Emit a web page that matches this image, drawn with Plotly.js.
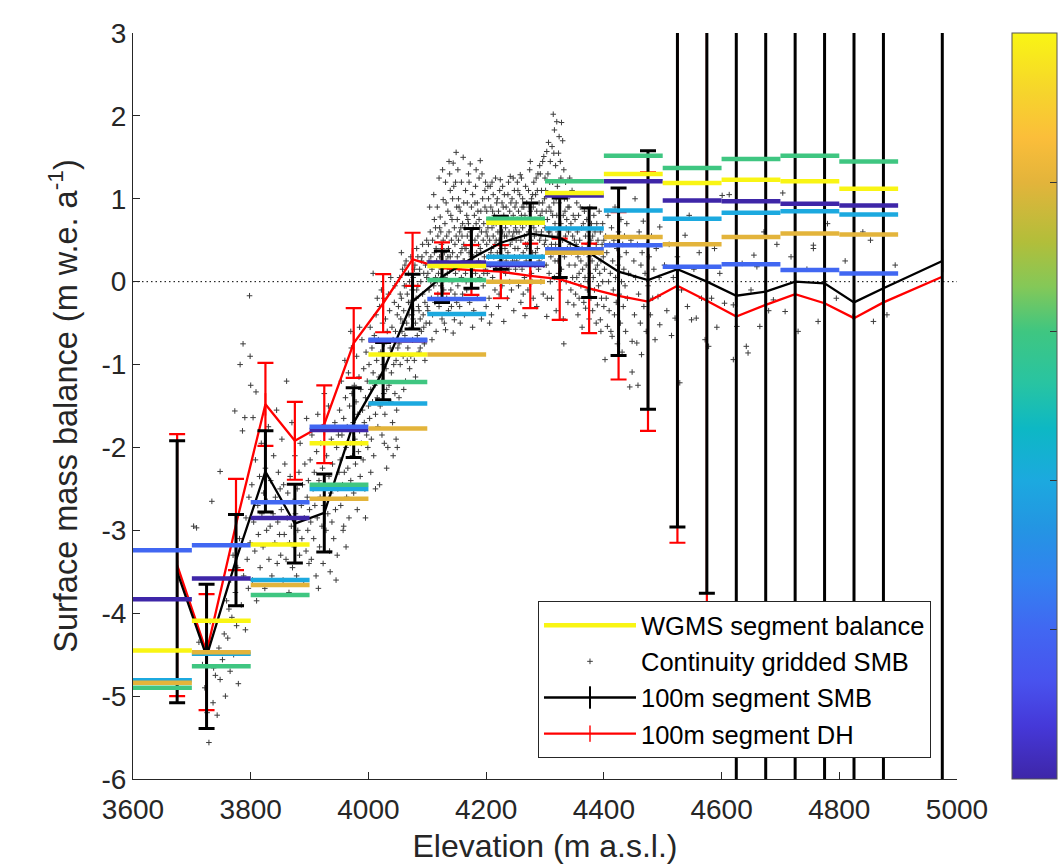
<!DOCTYPE html>
<html>
<head>
<meta charset="utf-8">
<script src="https://cdn.plot.ly/plotly-3.0.1.min.js"></script>
<style>html,body{margin:0;padding:0;background:#fff;}#chart{width:1058px;height:864px;}</style>
</head>
<body>
<div id="chart"></div>
<script>
// ---- 100 m segment centres (m a.s.l.) ----
const segElev = [3675,3725,3775,3825,3875,3925,3975,4025,4075,4125,4175,4225,4275,4325,4375,4425,4475,4525,4575,4625,4675,4725,4775,4825,4875,4975];
// 100m segment SMB (black) and its uncertainty
const smbSeg = [-3.50,-4.52,-3.36,-2.29,-2.92,-2.79,-1.70,-1.08,-0.24,0.06,0.28,0.47,0.58,0.53,0.35,0.12,0.02,0.15,0.00,-0.17,-0.12,0.00,-0.02,-0.25,-0.08,0.25];
const smbErr = [1.58,0.87,0.55,0.49,0.475,0.47,0.42,0.345,0.33,0.31,0.36,0.32,0.37,0.48,0.54,1.01,1.56,3.11,3.76,6.5,7.0,7.5,8.0,8.5,9.0,10.0];
// 100m segment DH (red) and its uncertainty (not shown above 4600 m)
const dhSeg = [-3.42,-4.47,-2.93,-1.48,-1.92,-1.72,-0.74,-0.26,0.27,0.165,0.14,0.12,0.07,0.03,-0.08,-0.17,-0.24,-0.05,-0.23,-0.42,-0.28,-0.15,-0.26,-0.44,-0.25,0.06];
const dhErr = [1.58,0.70,0.55,0.50,0.47,0.47,0.42,0.35,0.32,0.31,0.30,0.32,0.39,0.49,0.54,1.01,1.56,3.10,3.65,NaN,NaN,NaN,NaN,NaN,NaN,NaN];

// ---- WGMS segment balances: bin lower edges, one series per year (colour index 0..5) ----
const wgmsBinStart = [3600,3700,3800,3900,4000,4100,4200,4300,4400,4500,4600,4700,4800];
const wgmsBinWidth = 100;
const wgmsYear0 = [-3.83,-3.58,-2.85,-1.79,-0.71,0.23,0.20,1.04,1.21,0.98,0.97,0.94,0.92];
const wgmsYear1 = [-3.24,-3.18,-2.66,-1.75,-0.70,-0.21,0.22,0.39,0.44,0.18,0.21,0.14,0.10];
const wgmsYear2 = [-4.81,-4.49,-3.60,-2.50,-1.47,-0.39,0.30,0.64,0.86,0.76,0.83,0.85,0.81];
const wgmsYear3 = [-4.90,-4.64,-3.78,-2.45,-1.21,0.02,0.76,1.21,1.52,1.37,1.48,1.52,1.45];
const wgmsYear4 = [-4.84,-4.47,-3.66,-2.62,-1.77,-0.88,0.00,0.35,0.54,0.45,0.54,0.58,0.57];
const wgmsYear5 = [-4.45,-4.09,-3.17,-1.95,-0.88,0.19,0.71,1.07,1.30,1.19,1.23,1.21,1.12];
const wgmsYearIdx = [0,1,2,3,4,5];
const wgmsColors = ['#3E26A8','#4167F2','#1CA9DF','#3FC681','#E3B43B','#F9F514'];

// ---- tick labels ----
const xTickVals = [3600,3800,4000,4200,4400,4600,4800,5000];
const xTickText = ['3600','3800','4000','4200','4400','4600','4800','5000'];
const yTickVals = [-6,-5,-4,-3,-2,-1,0,1,2,3];
const yTickText = ['-6','-5','-4','-3','-2','-1','0','1','2','3'];

// ---- Continuity gridded SMB points [elevation, SMB] read from the cloud ----
const gridPts = [
[3703,-2.95],[3708,-2.97],[3712,-4.35],[3718,-4.62],[3722,-4.9],[3726,-5.2],[3729,-5.56],[3731,-4.1],[3734,-2.65],[3736,-5.08],[3737,-4.66],[3740,-4.75],[3743,-5.23],[3746,-4.42],[3748,-2.29],[3748,-4.8],[3752,-4.56],[3755,-4.25],[3757,-5.0],[3759,-3.85],
[3761,-4.3],[3763,-3.95],[3765,-4.7],[3766,-3.6],[3768,-4.05],[3770,-3.3],[3771,-4.5],[3773,-1.56],[3774,-3.75],[3776,-4.15],[3778,-3.45],[3779,-4.85],[3781,-3.1],[3782,-1.0],[3784,-3.9],[3786,-1.8],[3787,-0.75],[3788,-3.55],[3790,-1.64],[3791,-4.2],[3792,-2.85],[3794,-3.35],[3796,-3.7],[3797,-2.6],[3798,-0.17],[3799,-0.9],[3799,-3.15],[3800,-1.25],
[3802,-2.45],[3803,-3.6],[3804,-1.64],[3805,-2.9],[3807,-3.25],[3808,-2.15],[3809,-1.33],[3810,-3.85],[3812,-2.7],[3813,-3.05],[3815,-2.35],[3816,-3.45],[3818,-1.95],[3819,-2.8],[3821,-3.2],[3822,-2.55],[3824,-3.7],[3825,-2.25],[3827,-3.0],[3828,-2.65],[3830,-1.75],[3831,-3.35],[3833,-2.95],[3834,-2.4],[3836,-3.55],[3838,-2.8],[3839,-2.1],[3841,-3.15],[3842,-2.6],[3844,-1.55],[3845,-3.4],[3846,-2.9],[3847,-2.3],[3849,-3.05],[3850,-2.5],
[3851,-3.3],[3852,-2.75],[3853,-1.9],[3855,-3.6],[3856,-2.45],[3857,-3.05],[3858,-2.2],[3860,-3.35],[3861,-1.2],[3862,-2.85],[3863,-2.55],[3865,-3.75],[3866,-3.15],[3867,-2.35],[3869,-2.95],[3870,-1.7],[3871,-3.45],[3872,-2.65],[3874,-3.2],[3875,-2.1],[3876,-2.8],[3878,-3.55],[3879,-2.5],[3880,-3.0],[3882,-2.3],[3883,-3.3],[3884,-1.95],[3886,-2.7],[3887,-3.1],[3888,-2.45],[3890,-3.65],[3891,-2.85],[3892,-2.2],[3894,-3.25],[3895,-1.65],[3896,-2.6],[3897,-3.0],[3898,-2.4],[3899,-3.4],[3900,-2.75],
[3901,-2.15],[3902,-2.9],[3903,-3.35],[3904,-1.85],[3906,-2.5],[3907,-3.1],[3908,-2.3],[3909,-2.7],[3911,-3.55],[3912,-2.05],[3913,-2.85],[3914,-1.6],[3916,-2.4],[3917,-3.2],[3918,-2.6],[3919,-1.95],[3921,-2.95],[3922,-2.25],[3923,-3.4],[3924,-2.7],[3926,-1.75],[3927,-2.45],[3928,-3.0],[3929,-2.1],[3931,-2.8],[3932,-1.5],[3933,-2.35],[3934,-3.25],[3936,-2.55],[3937,-1.9],[3938,-2.9],[3939,-2.2],[3941,-3.1],[3942,-2.45],[3943,-1.7],[3944,-2.75],[3946,-2.0],[3947,-3.3],[3948,-2.5],[3949,-1.85],[3950,-2.3],[3945,-3.6],[3935,-3.5],[3915,-3.7],[3925,-1.35],
[3951,-1.55],[3952,-2.15],[3953,-2.7],[3954,-1.2],[3955,-1.85],[3956,-2.45],[3957,-3.0],[3958,-1.65],[3959,-2.3],[3960,-0.95],[3961,-1.4],[3962,-2.0],[3963,-2.6],[3964,-1.75],[3965,-2.25],[3966,-1.1],[3967,-2.85],[3968,-1.5],[3969,-1.95],[3970,-2.4],[3971,-0.8],[3972,-1.35],[3973,-2.1],[3974,-1.7],[3975,-2.55],[3976,-1.25],[3977,-1.9],[3978,-2.2],[3979,-1.45],[3980,-0.9],[3981,-2.75],[3982,-1.6],[3983,-2.05],[3984,-1.15],[3985,-1.8],[3986,-2.35],[3987,-1.3],[3988,-1.95],[3989,-0.7],[3990,-1.55],[3991,-2.15],[3992,-1.05],[3993,-1.7],[3994,-2.5],[3995,-1.4],[3996,-0.85],[3997,-1.85],[3998,-1.2],[3999,-2.0],[4000,-1.5],[3958,-2.95],[3970,-0.6],[3985,-0.55],[3962,-3.2],[3995,-2.85],
[4001,-1.0],[4002,-1.65],[4003,-0.55],[4004,-1.3],[4005,-1.9],[4006,-0.8],[4007,-1.45],[4008,-1.1],[4009,-2.1],[4010,-0.65],[4011,-1.25],[4012,-1.6],[4013,-0.4],[4014,-0.95],[4015,-1.4],[4016,-1.75],[4017,-0.7],[4018,-1.15],[4019,-0.3],[4020,-1.5],[4021,-0.85],[4022,-1.2],[4023,-1.85],[4024,-0.5],[4025,-1.0],[4026,-1.35],[4027,-0.75],[4028,-1.6],[4029,-0.45],[4030,-1.05],[4031,-1.3],[4032,-0.6],[4033,-2.0],[4034,-0.9],[4035,-1.25],[4036,-0.35],[4037,-0.8],[4038,-1.45],[4039,-1.1],[4040,-0.55],[4041,-1.7],[4042,-0.7],[4043,-1.0],[4044,-0.25],[4045,-1.35],[4046,-0.6],[4047,-0.95],[4048,-1.55],[4049,-0.4],[4050,-0.8],[4004,-2.3],[4012,-2.5],[4022,-0.1],[4031,-2.25],[4038,0.05],[4047,-1.9],[4015,-0.2],[4027,-1.95],[4042,-2.1],[4008,0.1],[4034,-0.15],[4045,-0.05],[4019,-2.45],[4026,-0.2],[4049,-2.0],
[4051,-0.3],[4052,-0.75],[4053,0.05],[4054,-1.0],[4055,-0.45],[4056,-0.2],[4057,-0.6],[4058,0.15],[4059,-0.9],[4060,-0.35],[4061,-0.05],[4062,-0.65],[4063,-1.2],[4064,0.25],[4065,-0.5],[4066,-0.15],[4067,-0.8],[4068,0.1],[4069,-0.4],[4070,-1.05],[4071,-0.25],[4072,0.3],[4073,-0.55],[4074,-0.1],[4075,-0.7],[4076,0.05],[4077,-0.35],[4078,-0.95],[4079,0.2],[4080,-0.5],[4081,-0.2],[4082,0.4],[4083,-0.65],[4084,-0.05],[4085,-0.3],[4086,-0.85],[4087,0.15],[4088,-0.45],[4089,0.0],[4090,-0.6],[4091,0.3],[4092,-0.15],[4093,-0.4],[4094,0.1],[4095,-0.75],[4096,-0.25],[4097,0.2],[4098,-0.5],[4099,0.05],[4100,-0.3],
[4052,-1.4],[4056,0.35],[4060,-1.3],[4064,-0.05],[4068,-0.25],[4072,-0.9],[4076,-0.45],[4080,-1.15],[4084,0.3],[4088,-0.8],[4092,0.45],[4096,-0.95],[4099,0.5],[4054,-0.15],[4058,-0.5],[4062,0.2],[4066,-0.95],[4070,0.0],[4074,-0.4],[4078,0.15],[4082,-0.1],[4086,-0.35],[4090,0.25],[4094,-0.55],[4098,0.35],
[4101,0.1],[4101,-0.35],[4102,0.45],[4103,-0.1],[4103,0.25],[4104,-0.5],[4105,0.6],[4106,0.0],[4106,0.3],[4107,-0.2],[4108,0.15],[4109,0.5],[4109,-0.4],[4110,0.2],[4111,-0.05],[4112,0.75],[4112,0.35],[4113,-0.25],[4114,0.05],[4115,0.4],[4115,-0.6],[4116,0.25],[4117,0.9],[4118,-0.15],[4118,0.55],[4119,0.1],[4120,-0.3],[4121,0.3],[4121,0.65],[4122,0.78],[4123,-0.05],[4124,0.45],[4124,0.15],[4125,-0.45],[4126,0.2],[4127,0.99],[4127,0.5],[4128,-0.1],[4129,0.35],[4130,0.05],[4130,0.7],[4131,-0.58],[4132,0.25],[4133,0.55],[4133,-0.2],[4134,0.1],[4135,0.85],[4136,0.4],[4136,-0.35],[4137,0.6],[4138,0.15],[4139,1.1],[4139,0.3],[4140,-0.1],[4141,0.5],[4142,0.75],[4142,0.0],[4143,0.35],[4144,1.43],[4144,-0.62],[4145,0.2],[4146,-0.46],[4146,0.65],[4147,0.45],[4148,1.2],[4148,0.1],[4149,1.56],[4149,0.55],[4150,-0.25],[4150,0.9],
[4104,0.9],[4108,-0.7],[4111,1.05],[4114,0.65],[4117,0.0],[4120,1.25],[4123,0.6],[4126,1.35],[4129,-0.5],[4132,0.95],[4135,0.3],[4138,1.3],[4141,-0.3],[4143,1.0],[4145,1.15],[4147,-0.15],[4140,0.8],[4137,1.45],[4131,1.2],[4125,0.4],
[4151,0.3],[4151,0.75],[4152,-0.05],[4153,0.5],[4153,1.0],[4154,0.15],[4155,0.6],[4155,-0.3],[4156,0.85],[4157,0.35],[4158,0.05],[4158,1.2],[4159,0.55],[4160,-0.15],[4160,0.7],[4161,0.25],[4162,0.95],[4162,0.45],[4163,-0.4],[4164,0.65],[4165,0.1],[4165,1.1],[4166,0.4],[4167,0.8],[4167,-0.1],[4168,0.55],[4169,0.2],[4170,1.3],[4170,0.7],[4171,0.35],[4172,-0.25],[4173,1.42],[4173,0.6],[4174,0.0],[4175,0.9],[4176,0.45],[4176,0.15],[4177,1.05],[4178,0.65],[4179,-0.35],[4179,0.3],[4180,0.8],[4181,0.5],[4182,1.15],[4182,0.1],[4183,0.7],[4184,0.35],[4185,-0.2],[4185,0.95],[4186,0.55],[4187,0.25],[4188,1.25],[4188,0.75],[4189,0.05],[4190,1.46],[4190,0.4],[4191,0.85],[4192,-0.45],[4192,0.6],[4193,0.2],[4194,1.0],[4195,0.5],[4195,-0.05],[4196,0.7],[4197,0.3],[4198,1.1],[4198,0.9],[4199,0.15],[4200,0.6],[4200,-0.3],
[4152,1.35],[4154,0.9],[4156,-0.5],[4159,0.4],[4161,1.5],[4163,0.25],[4166,0.0],[4168,0.95],[4171,1.2],[4174,0.5],[4177,-0.55],[4180,0.2],[4183,1.35],[4186,0.85],[4189,0.65],[4191,0.35],[4193,1.3],[4196,0.1],[4199,1.2],[4157,0.65],[4164,0.4],[4169,0.75],[4175,0.3],[4181,0.95],[4187,0.45],
[4201,0.45],[4201,0.85],[4202,0.1],[4203,0.65],[4203,1.15],[4204,0.3],[4205,-0.2],[4205,0.75],[4206,0.5],[4207,1.15],[4207,0.2],[4208,0.9],[4209,0.4],[4209,-0.4],[4210,0.65],[4211,0.05],[4212,1.05],[4212,0.55],[4213,0.3],[4214,0.8],[4215,-0.1],[4215,0.45],[4216,1.25],[4217,0.7],[4218,0.15],[4218,0.95],[4219,0.35],[4220,0.6],[4221,-0.3],[4221,0.85],[4222,0.5],[4223,1.1],[4224,1.23],[4224,0.25],[4225,0.7],[4226,0.45],[4227,-0.05],[4227,0.95],[4228,0.6],[4229,0.3],[4230,-0.48],[4230,0.8],[4231,1.05],[4232,0.4],[4233,0.65],[4233,0.1],[4234,0.9],[4235,0.55],[4236,-0.2],[4236,0.75],[4237,0.35],[4238,1.2],[4239,0.6],[4239,0.15],[4240,0.85],[4241,1.27],[4241,0.45],[4242,0.7],[4243,-0.1],[4244,1.0],[4244,0.5],[4245,0.25],[4246,0.8],[4247,0.6],[4247,-0.35],[4248,1.1],[4249,0.4],[4249,0.9],[4250,0.65],[4250,0.15],
[4202,0.55],[4204,1.0],[4206,-0.5],[4208,0.35],[4210,1.2],[4213,0.7],[4216,0.2],[4219,1.0],[4222,-0.15],[4225,0.4],[4228,1.15],[4231,0.55],[4234,0.25],[4237,1.05],[4240,0.0],[4243,0.75],[4246,1.25],[4248,0.3],[4211,0.85],[4217,0.5],[4223,0.75],[4229,0.9],[4235,0.2],[4242,0.95],[4245,0.55],
[4251,0.5],[4251,0.95],[4252,0.25],[4253,0.75],[4253,1.2],[4254,0.4],[4255,-0.05],[4255,0.85],[4256,0.6],[4257,1.05],[4257,0.3],[4258,1.29],[4259,0.5],[4259,-0.25],[4260,0.8],[4261,0.15],[4262,1.0],[4262,0.65],[4263,0.35],[4264,0.9],[4265,0.05],[4265,0.55],[4266,-0.41],[4267,1.15],[4268,0.7],[4268,0.25],[4269,0.95],[4270,0.45],[4271,0.75],[4271,-0.1],[4272,1.1],[4273,0.6],[4274,0.3],[4274,1.35],[4275,0.85],[4276,0.5],[4277,0.1],[4277,1.0],[4278,0.7],[4279,0.35],[4280,-0.2],[4280,0.9],[4281,1.2],[4282,0.55],[4283,0.75],[4283,0.2],[4284,1.05],[4285,0.6],[4286,-0.3],[4286,0.85],[4287,0.4],[4288,1.3],[4289,0.7],[4289,0.15],[4290,0.95],[4291,1.4],[4291,0.5],[4292,0.8],[4293,0.0],[4294,1.1],[4294,0.6],[4295,0.3],[4296,1.45],[4297,0.75],[4297,-0.15],[4298,1.51],[4299,0.45],[4299,1.0],[4300,0.65],[4300,1.25],
[4252,0.6],[4254,1.1],[4256,0.2],[4258,0.7],[4260,1.25],[4263,-0.15],[4266,0.8],[4269,0.4],[4272,0.6],[4275,1.45],[4278,0.0],[4281,0.65],[4284,0.35],[4287,1.1],[4290,0.25],[4292,1.3],[4295,0.85],[4298,0.2],[4261,0.9],[4267,0.45],[4273,0.9],[4279,1.05],[4285,1.25],[4293,0.55],[4296,0.95],
[4301,0.5],[4301,1.1],[4302,0.2],[4303,1.57],[4303,-0.42],[4304,0.75],[4305,0.4],[4305,1.3],[4306,1.68],[4307,0.9],[4307,0.1],[4308,0.6],[4309,1.45],[4310,0.3],[4310,0.85],[4311,-0.2],[4312,1.63],[4312,0.55],[4313,1.2],[4314,2.02],[4314,0.35],[4315,0.95],[4316,1.83],[4316,0.05],[4317,0.7],[4318,1.4],[4318,0.45],[4319,-0.35],[4320,1.93],[4320,0.8],[4321,1.15],[4322,0.25],[4322,0.6],[4323,1.55],[4324,0.95],[4325,-0.1],[4325,0.4],[4326,1.45],[4327,0.7],[4328,1.92],[4328,0.15],[4329,1.05],[4330,0.5],[4330,1.7],[4331,-0.45],[4332,1.35],[4332,-0.75],[4333,0.3],[4334,0.85],[4335,0.55],[4335,1.2],[4336,0.0],[4337,0.75],[4338,0.4],[4338,1.0],[4339,-0.25],[4340,0.6],[4341,0.9],[4341,0.2],[4342,1.25],[4343,0.45],[4344,-0.1],[4344,0.7],[4345,0.35],[4346,1.1],[4347,0.55],[4347,0.05],[4348,0.8],[4349,-0.28],[4350,0.5],
[4302,0.85],[4304,-0.2],[4306,0.6],[4308,1.2],[4309,0.0],[4311,0.45],[4313,0.8],[4315,1.55],[4317,0.25],[4319,1.0],[4321,0.55],[4323,0.1],[4324,1.75],[4326,0.65],[4327,1.25],[4329,0.35],[4331,0.8],[4333,1.0],[4336,0.65],[4339,0.9],
[4351,0.2],[4351,0.75],[4352,-0.15],[4353,0.45],[4354,0.95],[4354,0.05],[4355,0.6],[4356,-0.4],[4356,0.3],[4357,0.8],[4358,0.1],[4358,-0.2],[4359,0.5],[4360,0.9],[4361,0.25],[4361,-0.05],[4362,0.65],[4363,0.4],[4363,-0.55],[4364,0.15],[4365,0.7],[4366,-0.25],[4366,0.35],[4367,0.85],[4368,0.05],[4369,-0.32],[4369,0.55],[4370,0.2],[4371,0.75],[4372,-0.1],[4372,0.45],[4373,0.0],[4374,0.6],[4375,-0.45],[4375,0.3],[4376,0.9],[4377,0.1],[4378,0.5],[4378,-0.2],[4379,0.7],[4380,0.25],[4381,-0.35],[4381,0.55],[4382,0.05],[4383,0.8],[4384,0.35],[4384,-0.1],[4385,0.6],[4386,0.15],[4387,-0.5],[4387,0.45],[4388,0.7],[4389,-0.28],[4389,0.2],[4390,0.5],[4391,-0.05],[4392,0.35],[4392,0.85],[4393,0.1],[4394,-0.46],[4394,0.6],[4395,0.25],[4396,-0.2],[4397,0.45],[4398,0.0],[4398,0.7],[4399,0.3],[4400,-0.3],[4400,0.5],[4395,-0.6],
[4401,0.15],[4402,-0.94],[4403,0.55],[4404,-0.2],[4405,0.35],[4406,-0.54],[4407,0.8],[4408,0.0],[4409,-0.35],[4410,0.45],[4411,0.1],[4412,-0.6],[4413,0.65],[4414,-0.66],[4415,0.25],[4416,-0.1],[4417,0.5],[4418,-0.4],[4419,0.9],[4420,0.05],[4421,-0.25],[4422,0.4],[4423,-0.75],[4424,0.2],[4425,0.6],[4426,-0.15],[4427,0.3],[4428,-0.5],[4429,0.75],[4430,0.0],[4431,-0.85],[4432,0.45],[4433,-0.3],[4434,0.15],[4435,0.55],[4436,-0.05],[4437,-0.6],[4438,0.35],[4439,0.7],[4440,-0.2],[4442,0.1],[4444,-1.27],[4446,0.5],[4448,-0.72],[4448,-1.09],
[4451,0.25],[4452,-0.4],[4453,1.0],[4454,0.05],[4456,-0.74],[4457,0.45],[4458,-1.25],[4459,-0.15],[4460,0.6],[4462,-0.5],[4463,0.2],[4464,-0.88],[4465,0.35],[4467,0.73],[4468,-0.3],[4470,0.1],[4472,-0.6],[4473,0.45],[4475,-0.05],[4477,0.3],[4479,-0.4],[4481,0.55],[4483,-0.2],[4485,0.15],[4487,-0.7],[4489,0.4],[4492,-0.18],[4494,0.05],[4495,-0.52],[4495,0.66],
[4503,0.2],[4507,-0.35],[4511,0.45],[4515,-0.65],[4518,0.05],[4521,-0.44],[4525,0.3],[4529,-1.22],[4532,-0.1],[4538,0.56],[4542,-0.3],[4549,-0.46],[4553,0.15],[4557,-0.44],[4562,0.35],[4566,-0.2],[4572,-0.7],[4578,-0.78],[4583,-0.2],[4588,0.4],[4592,-0.55],[4597,0.1],[4601,1.04],[4605,-0.26],[4545,0.8],
[4613,1.05],[4620,-0.94],[4620,-0.28],[4626,-0.54],[4635,0.22],[4642,-0.78],[4645,-0.86],[4655,0.32],[4660,0.18],[4665,-0.54],[4672,0.6],[4680,-0.35],[4688,-0.22],[4694,0.45],[4650,-0.1],
[4704,1.07],[4708,-0.36],[4718,0.3],[4730,-0.6],[4745,0.15],[4756,0.44],[4756,0.40],[4764,-0.48],[4780,0.7],[4795,-0.2],[4810,0.25],[4823,-0.42],[4840,0.6],[4853,0.5],[4858,-0.48],[4881,-0.40],[4895,0.2]
];

// ---------------- build traces ----------------
const FONT = 'Liberation Sans, Arial, Helvetica, sans-serif';
const TXT = '#262626';
const wgmsSeries = [wgmsYear0,wgmsYear1,wgmsYear2,wgmsYear3,wgmsYear4,wgmsYear5];

const traces = [];

// gridded cloud
traces.push({
  type:'scatter', mode:'markers', name:'Continuity gridded SMB',
  x: gridPts.map(p=>p[0]), y: gridPts.map(p=>p[1]),
  marker:{symbol:'cross-thin', size:4, line:{width:1, color:'#3c3c3c'}, color:'#3c3c3c'},
  legendrank:2, legendgroup:'g2', hoverinfo:'skip'
});

// DH (red) - vertical tick markers only where an error bar is drawn (used as legend glyph)
traces.push({
  type:'scatter', mode:'lines+markers', name:'100m segment DH',
  x: segElev, y: dhSeg,
  line:{color:'#FF0000', width:2.3},
  marker:{symbol:'line-ns', size: dhErr.map(e => isNaN(e) ? 0 : 16), line:{width:2, color:'#FF0000'}, color:'#FF0000'},
  error_y:{type:'data', array: dhErr, visible:true, color:'#FF0000', thickness:2.2, width:8},
  legendrank:4, legendgroup:'g4', hoverinfo:'skip'
});

// SMB (black)
traces.push({
  type:'scatter', mode:'lines+markers', name:'100m segment SMB',
  x: segElev, y: smbSeg,
  line:{color:'#000000', width:2.3},
  marker:{symbol:'line-ns', size:16, line:{width:2, color:'#000000'}, color:'#000000'},
  error_y:{type:'data', array: smbErr, visible:true, color:'#000000', thickness:3, width:8},
  legendrank:3, legendgroup:'g3', hoverinfo:'skip'
});

// WGMS year segments
wgmsSeries.forEach((vals, k) => {
  const xs = [], ys = [];
  wgmsBinStart.forEach((b, i) => {
    xs.push(b, b + wgmsBinWidth, null);
    ys.push(vals[i], vals[i], null);
  });
  traces.push({
    type:'scatter', mode:'lines', name: k === 5 ? 'WGMS segment balance' : 'WGMS ' + k,
    x: xs, y: ys, line:{color: wgmsColors[wgmsYearIdx[k]], width:4.5},
    showlegend: k === 5, legendrank:1, legendgroup:'g1', hoverinfo:'skip'
  });
});

// colour scale carrier (year index of each WGMS segment)
const csX = [], csY = [], csC = [];
wgmsSeries.forEach((vals, k) => {
  wgmsBinStart.forEach((b, i) => { csX.push(b + wgmsBinWidth/2); csY.push(vals[i]); csC.push(wgmsYearIdx[k]); });
});
const parula = [
  [0,'#3E26A8'],[0.07,'#4538D8'],[0.13,'#4852EE'],[0.2,'#4167F2'],[0.27,'#3282F0'],[0.34,'#2396E2'],
  [0.4,'#1CA9DF'],[0.47,'#0DB8C4'],[0.53,'#28C4A2'],[0.6,'#3FC681'],[0.66,'#84C858'],[0.72,'#B2BE3A'],
  [0.8,'#E3B43B'],[0.86,'#FBBE3A'],[0.92,'#F6D42C'],[1,'#F9F514']
];
traces.push({
  type:'scatter', mode:'markers', x: csX, y: csY, showlegend:false, hoverinfo:'skip',
  marker:{size:1, opacity:0, color: csC, cmin:0, cmax:5, colorscale: parula, showscale:true,
    colorbar:{x:1.0667, xanchor:'left', xpad:0, y:0.5, yanchor:'middle', ypad:0, len:1, lenmode:'fraction',
      thickness:45, thicknessmode:'pixels', outlinecolor:'#555', outlinewidth:1, borderwidth:0,
      ticks:'inside', ticklen:7, tickwidth:1, tickcolor:'#333', tickvals:[1,2,3,4], showticklabels:false}}
});

const layout = {
  width:1058, height:864,
  margin:{l:133, r:101, t:33, b:85, pad:0, autoexpand:false},
  paper_bgcolor:'#ffffff', plot_bgcolor:'#ffffff',
  font:{family:FONT, color:TXT, size:28},
  showlegend:true,
  hovermode:false,
  xaxis:{range:[3600,5000], tickvals:xTickVals, ticktext:xTickText, ticks:'inside', ticklen:7, tickwidth:1, tickcolor:TXT,
    showline:true, linecolor:TXT, linewidth:1, mirror:false, showgrid:false, zeroline:false, ticklabelstandoff:5,
    tickfont:{family:FONT, size:28, color:TXT},
    title:{text:'Elevation (m a.s.l.)', font:{family:FONT, size:32, color:TXT}, standoff:20}, automargin:false},
  yaxis:{range:[-6,3], tickvals:yTickVals, ticktext:yTickText, ticks:'inside', ticklen:7, tickwidth:1, tickcolor:TXT,
    showline:true, linecolor:TXT, linewidth:1, mirror:false, showgrid:false, zeroline:false,
    tickfont:{family:FONT, size:28, color:TXT},
    title:{text:'Surface mass balance (m w.e. a<sup>-1</sup>)', font:{family:FONT, size:32.5, color:TXT}, standoff:14}, automargin:false},
  legend:{x:0.4915, xanchor:'left', y:0.028, yanchor:'bottom', bgcolor:'#ffffff', bordercolor:TXT, borderwidth:1,
    font:{family:FONT, size:25.5, color:'#000'}, itemwidth:92, tracegroupgap:0, traceorder:'normal'},
  shapes:[{type:'line', xref:'paper', x0:0, x1:1, yref:'y', y0:0, y1:0, layer:'below',
    line:{color:'#000', width:1, dash:'1.5px,3px'}}]
};

Plotly.newPlot('chart', traces, layout, {displayModeBar:false, staticPlot:true});
</script>
</body>
</html>
